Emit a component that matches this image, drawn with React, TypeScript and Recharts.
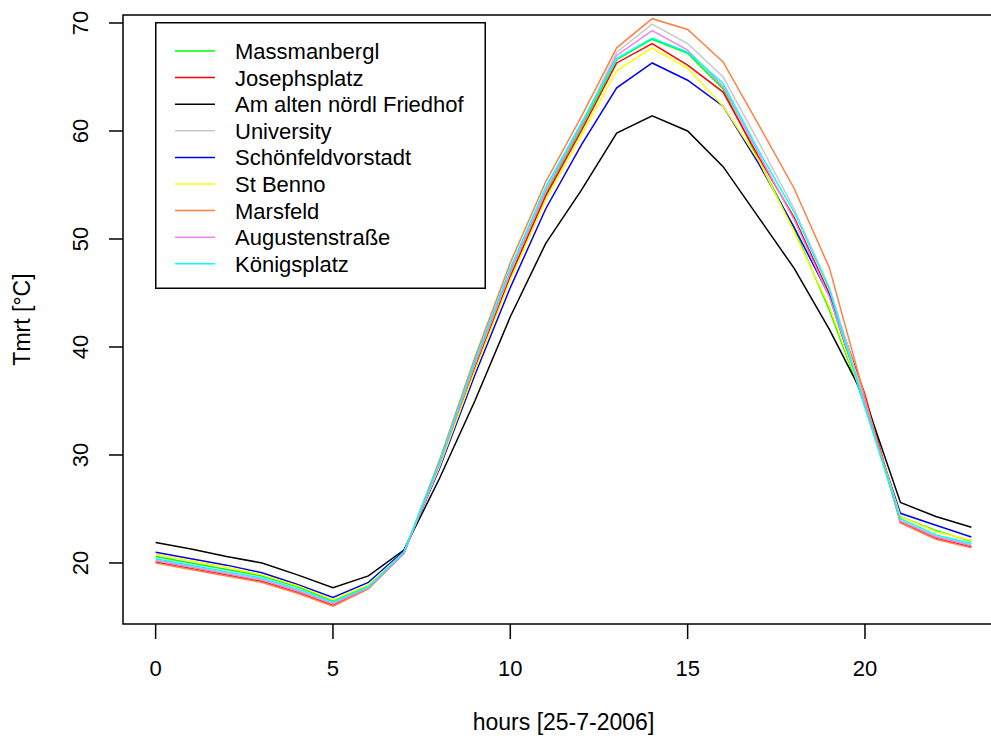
import React from 'react';
import { LineChart, Line, XAxis, YAxis, ReferenceArea, Legend } from 'recharts';

const hours = [0, 1, 2, 3, 4, 5, 6, 7, 8, 9, 10, 11, 12, 13, 14, 15, 16, 17, 18, 19, 20, 21, 22, 23];

const massmanbergl = [20.6, 20.0, 19.4, 18.8, 17.8, 16.5, 17.9, 21.0, 29.0, 38.2, 46.7, 54.2, 60.3, 66.6, 68.5, 67.2, 63.9, 57.3, 51.0, 43.4, 34.6, 24.3, 23.0, 22.0];
const josephsplatz = [20.1, 19.5, 18.9, 18.3, 17.3, 16.1, 17.7, 20.9, 29.0, 38.0, 46.5, 54.0, 60.0, 66.3, 68.1, 66.1, 63.6, 57.6, 52.0, 44.9, 35.6, 23.8, 22.3, 21.5];
const amAltenFriedhof = [21.9, 21.3, 20.6, 20.0, 18.9, 17.7, 18.8, 21.2, 27.8, 35.0, 42.8, 49.6, 54.5, 59.8, 61.4, 60.0, 56.7, 52.0, 47.3, 41.6, 35.2, 25.6, 24.3, 23.3];
const university = [20.3, 19.7, 19.1, 18.5, 17.5, 16.3, 17.8, 21.0, 29.2, 38.5, 47.0, 54.5, 60.6, 67.3, 69.9, 68.1, 65.0, 59.0, 52.8, 45.5, 35.0, 23.9, 22.5, 21.7];
const schoenfeldvorstadt = [21.0, 20.4, 19.8, 19.1, 18.0, 16.8, 18.2, 21.1, 28.7, 37.4, 45.5, 52.8, 58.7, 64.0, 66.3, 64.7, 62.3, 57.0, 51.1, 44.7, 34.5, 24.6, 23.5, 22.4];
const stBenno = [20.8, 20.2, 19.6, 18.9, 17.9, 16.6, 18.0, 21.0, 28.9, 37.8, 46.2, 53.6, 59.6, 65.6, 67.7, 65.8, 62.3, 57.3, 50.7, 43.7, 34.8, 24.3, 22.9, 22.1];
const marsfeld = [20.0, 19.4, 18.8, 18.2, 17.2, 16.0, 17.6, 20.9, 29.5, 39.0, 47.8, 55.3, 61.3, 67.7, 70.4, 69.4, 66.4, 60.6, 54.7, 47.3, 35.3, 23.7, 22.2, 21.4];
const augustenstrasse = [20.2, 19.6, 19.0, 18.4, 17.4, 16.2, 17.7, 20.9, 29.1, 38.4, 46.9, 54.4, 60.5, 67.0, 69.3, 67.5, 64.1, 57.9, 51.8, 44.6, 34.8, 23.9, 22.4, 21.6];
const koenigsplatz = [20.4, 19.8, 19.2, 18.6, 17.6, 16.4, 17.8, 21.0, 29.3, 38.7, 47.3, 54.8, 60.7, 66.7, 68.6, 67.3, 64.4, 58.2, 52.5, 45.3, 34.4, 24.1, 22.6, 21.8];

const seriesNames = ['Massmanbergl', 'Josephsplatz', 'Am alten nördl Friedhof', 'University', 'Schönfeldvorstadt', 'St Benno', 'Marsfeld', 'Augustenstraße', 'Königsplatz'];
const seriesValues = [massmanbergl, josephsplatz, amAltenFriedhof, university, schoenfeldvorstadt, stBenno, marsfeld, augustenstrasse, koenigsplatz];
const seriesColors = ['#00FF00', '#FF0000', '#000000', '#C8C8C8', '#0000FF', '#FFFF00', '#FF8040', '#EE82EE', '#00FFFF'];

const xTicks = [0, 5, 10, 15, 20];
const yTicks = [20, 30, 40, 50, 60, 70];
const xTitle = 'hours [25-7-2006]';
const yTitle = 'Tmrt [°C]';

const data = hours.map((h, i) => {
  const row: Record<string, number> = { hour: h };
  seriesValues.forEach((vals, k) => {
    row['s' + k] = vals[i];
  });
  return row;
});

const FONT = '"Liberation Sans", Arial, sans-serif';
const FS = 22;

const XTick = (props: any) => {
  const { x, y, payload } = props;
  return (
    <text x={x} y={y + 37} textAnchor="middle" fontSize={FS} fontFamily={FONT} fill="#000">
      {payload.value}
    </text>
  );
};

const YTick = (props: any) => {
  const { x, y, payload } = props;
  const bx = x - 21;
  return (
    <text x={bx} y={y} transform={`rotate(-90, ${bx}, ${y})`} textAnchor="middle" fontSize={FS} fontFamily={FONT} fill="#000">
      {payload.value}
    </text>
  );
};

const XLabel = (props: any) => {
  const vb = props.viewBox || { x: 123, y: 624, width: 881, height: 118 };
  return (
    <text x={vb.x + vb.width / 2} y={730} textAnchor="middle" fontSize={23} fontFamily={FONT} fill="#000">
      {xTitle}
    </text>
  );
};

const YLabel = (props: any) => {
  const vb = props.viewBox || { x: 0, y: 15, width: 123, height: 609 };
  const cy = vb.y + vb.height / 2;
  const bx = 30;
  return (
    <text x={bx} y={cy} transform={`rotate(-90, ${bx}, ${cy})`} textAnchor="middle" fontSize={23} fontFamily={FONT} fill="#000">
      {yTitle}
    </text>
  );
};

const LegendBox = () => {
  const w = 331;
  const h = 267;
  const rowY0 = 29;
  const rowStep = 26.6;
  return (
    <svg width={w} height={h} style={{ display: 'block' }}>
      <rect x={0.75} y={0.75} width={w - 1.5} height={h - 1.5} fill="#fff" stroke="#000" strokeWidth={1.5} />
      {seriesNames.map((name, i) => {
        const cy = rowY0 + i * rowStep;
        return (
          <g key={name}>
            <line x1={20} x2={60} y1={cy} y2={cy} stroke={seriesColors[i]} strokeWidth={1.5} />
            <text x={80} y={cy + 8} fontSize={FS} fontFamily={FONT} fill="#000">
              {name}
            </text>
          </g>
        );
      })}
    </svg>
  );
};

export default function App() {
  return (
    <div style={{ position: 'absolute', left: 0, top: 0, width: 991, height: 742, overflow: 'hidden', background: '#fff' }}>
      <LineChart width={1020} height={742} data={data} margin={{ top: 15, right: 16, bottom: 0, left: 0 }}>
        <XAxis
          dataKey="hour"
          type="number"
          domain={[-0.92, 23.92]}
          allowDataOverflow
          ticks={xTicks}
          interval={0}
          height={118}
          tickSize={15}
          tickMargin={0}
          axisLine={false}
          tickLine={{ stroke: '#000', strokeWidth: 1.5 }}
          tick={<XTick />}
          label={<XLabel />}
        />
        <YAxis
          type="number"
          domain={[14.35, 70.74]}
          allowDataOverflow
          ticks={yTicks}
          interval={0}
          width={123}
          tickSize={14}
          tickMargin={0}
          axisLine={false}
          tickLine={{ stroke: '#000', strokeWidth: 1.5 }}
          tick={<YTick />}
          label={<YLabel />}
        />
        <ReferenceArea x1={-0.92} x2={23.92} y1={14.35} y2={70.74} fill="none" stroke="#000" strokeWidth={1.5} fillOpacity={0} ifOverflow="visible" />
        {seriesNames.map((name, k) => (
          <Line
            key={name}
            type="linear"
            dataKey={'s' + k}
            name={name}
            stroke={seriesColors[k]}
            strokeWidth={1.5}
            dot={false}
            activeDot={false}
            isAnimationActive={false}
          />
        ))}
        <Legend
          layout="vertical"
          align="center"
          verticalAlign="middle"
          content={<LegendBox />}
          wrapperStyle={{ position: 'absolute', left: 155, top: 22, width: 331, height: 267, margin: 0, padding: 0 }}
        />
      </LineChart>
    </div>
  );
}
